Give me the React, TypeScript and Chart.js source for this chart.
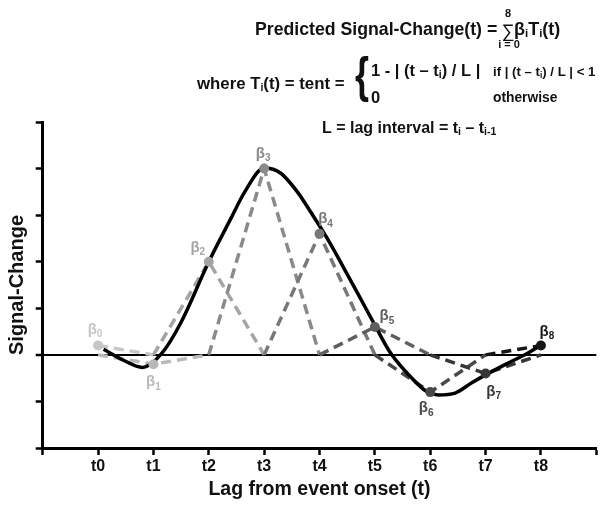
import { useEffect, useRef } from 'react';
import { Chart, registerables } from 'chart.js';

Chart.register(...registerables);

const FF = "'Liberation Sans', Arial, Helvetica, sans-serif";

// Lags (t0..t8) and estimated tent weights (beta_i)
const LAGS = [0, 1, 2, 3, 4, 5, 6, 7, 8];
const BETAS = [0.2, -0.2, 2.0, 4.0, 2.6, 0.6, -0.8, -0.4, 0.2];
const X_TICK_LABELS = ['t0', 't1', 't2', 't3', 't4', 't5', 't6', 't7', 't8'];

// Smooth predicted signal-change curve
const CURVE_X = [0.1, 0.45, 0.8, 1.15, 1.5, 2.0, 2.4, 2.65, 3.0, 3.3, 3.6, 3.85, 4.15, 4.4, 4.7, 5.0, 5.25, 5.55, 5.95, 6.15, 6.45, 6.75, 7.0, 7.4, 7.75, 8.0];
const CURVE_Y = [0.12, -0.11, -0.27, 0.03, 0.7, 2.0, 2.93, 3.5, 4.01, 3.9, 3.5, 3.05, 2.48, 1.95, 1.3, 0.64, 0.1, -0.35, -0.8, -0.86, -0.82, -0.6, -0.43, -0.18, 0.03, 0.21];

// Styles
const TENT_COLORS = ['#c6c6c6', '#b9b9b9', '#a4a4a4', '#8a8a8a', '#787878', '#5e5e5e', '#494949', '#363636', '#161616'];
const LABEL_OFFSETS: [number, number][] = [[-3, -16], [0, 18], [-11, -14], [-1, -15], [6, -15], [12, -11], [-4, 16], [8, 18], [6, -14]];

type Run = [string, number, number];
function drawRuns(ctx: CanvasRenderingContext2D, x: number, y: number, parts: Run[], weight = 'bold') {
  let cx = x;
  for (const [t, s, dy] of parts) {
    ctx.font = `${weight} ${s}px ${FF}`;
    ctx.fillText(t, cx, y + dy);
    cx += ctx.measureText(t).width;
  }
  return cx;
}

const betaLabelPlugin = {
  id: 'betaLabels',
  afterDatasetsDraw(chart: any) {
    const { ctx, scales } = chart;
    ctx.save();
    ctx.textBaseline = 'middle';
    ctx.textAlign = 'left';
    LAGS.forEach((lag, i) => {
      const px = scales.x.getPixelForValue(lag);
      const py = scales.y.getPixelForValue(BETAS[i]);
      const [dx, dy] = LABEL_OFFSETS[i];
      ctx.font = `bold 15px ${FF}`;
      const w1 = ctx.measureText('β').width;
      ctx.font = `bold 10px ${FF}`;
      const w2 = ctx.measureText(String(i)).width;
      const cx = px + dx - (w1 + w2) / 2;
      const cy = py + dy;
      ctx.fillStyle = TENT_COLORS[i];
      ctx.font = `bold 15px ${FF}`;
      ctx.fillText('β', cx, cy);
      ctx.font = `bold 10px ${FF}`;
      ctx.fillText(String(i), cx + w1, cy + 5);
    });
    ctx.restore();
  },
};

const equationPlugin = {
  id: 'equation',
  afterDraw(chart: any) {
    const ctx: CanvasRenderingContext2D = chart.ctx;
    ctx.save();
    ctx.fillStyle = '#111';
    ctx.textBaseline = 'alphabetic';
    ctx.textAlign = 'left';
    // Line 1
    drawRuns(ctx, 255, 35, [['Predicted Signal-Change(t) =', 17.7, 0]]);
    ctx.textAlign = 'center';
    ctx.font = `18px ${FF}`;
    ctx.fillText('∑', 508, 37);
    ctx.font = `bold 11px ${FF}`;
    ctx.fillText('8', 508, 17);
    ctx.fillText('i = 0', 509, 48);
    ctx.textAlign = 'left';
    drawRuns(ctx, 514, 35, [['β', 18, 0], ['i', 11.5, 2], ['T', 18, 0], ['i', 11.5, 2], ['(t)', 18, 0]]);
    // Line 2
    drawRuns(ctx, 197, 89, [['where T', 16.8, 0], ['i', 10.5, 2], ['(t) = tent =', 16.8, 0]]);
    ctx.save();
    ctx.translate(355, 92);
    ctx.scale(0.72, 1);
    ctx.font = `bold 50px ${FF}`;
    ctx.fillText('{', 0, 0);
    ctx.restore();
    drawRuns(ctx, 371, 76, [['1 - | (t – t', 16.5, 0], ['i', 10.5, 2], [') / L |', 16.5, 0]]);
    drawRuns(ctx, 371, 103, [['0', 16.5, 0]]);
    drawRuns(ctx, 493, 76, [['if | (t – t', 13.2, 0], ['i', 8.5, 1.5], [') / L | < 1', 13.2, 0]]);
    drawRuns(ctx, 493, 102, [['otherwise', 13.8, 0]]);
    // Line 3
    drawRuns(ctx, 322, 133, [['L = lag interval = t', 16, 0], ['i', 10.5, 2], [' – t', 16, 0], ['i-1', 10.5, 2]]);
    ctx.restore();
  },
};

export default function App() {
  const ref = useRef<HTMLCanvasElement | null>(null);

  useEffect(() => {
    if (!ref.current) return;
    const tentDatasets = LAGS.map((lag, i) => {
      const pts: { x: number; y: number }[] = [];
      if (i > 0) pts.push({ x: LAGS[i - 1], y: 0 });
      pts.push({ x: lag, y: BETAS[i] });
      if (i < LAGS.length - 1) pts.push({ x: LAGS[i + 1], y: 0 });
      return {
        type: 'line' as const,
        label: 'tent' + i,
        data: pts,
        borderColor: TENT_COLORS[i],
        borderWidth: 3.5,
        borderDash: [10, 6],
        pointRadius: 0,
        tension: 0,
        fill: false,
        order: 30 - i,
      };
    });

    const chart = new Chart(ref.current, {
      type: 'line',
      data: {
        datasets: [
          ...tentDatasets,
          {
            type: 'line',
            label: 'predicted',
            data: CURVE_X.map((x, k) => ({ x, y: CURVE_Y[k] })),
            borderColor: '#000',
            borderWidth: 3.5,
            pointRadius: 0,
            cubicInterpolationMode: 'monotone',
            fill: false,
            order: 1,
          },
          {
            type: 'scatter',
            label: 'betas',
            data: LAGS.map((x, i) => ({ x, y: BETAS[i] })),
            pointBackgroundColor: TENT_COLORS,
            pointBorderWidth: 0,
            pointRadius: 5,
            showLine: false,
            order: 0,
          },
        ] as any,
      },
      options: {
        responsive: false,
        animation: false,
        devicePixelRatio: 1,
        layout: { padding: { top: 122, right: 10.7, left: 0, bottom: 0 } },
        plugins: { legend: { display: false }, tooltip: { enabled: false } },
        scales: {
          x: {
            type: 'linear',
            min: -1,
            max: 9,
            afterFit: (s: any) => { s.height = 58; },
            border: { display: true, color: '#000', width: 3 },
            grid: { drawOnChartArea: false, drawTicks: true, tickLength: 7, tickColor: '#000', tickWidth: 2.5 },
            ticks: {
              stepSize: 1,
              autoSkip: false,
              maxRotation: 0,
              padding: 2,
              color: '#111',
              font: { size: 16, weight: 'bold', family: FF },
              callback: (v: any) => (v >= 0 && v <= 8 ? X_TICK_LABELS[v] : ''),
            },
            title: {
              display: true,
              text: 'Lag from event onset (t)',
              color: '#111',
              font: { size: 19.5, weight: 'bold', family: FF },
              padding: { top: 0, bottom: 5 },
            },
          },
          y: {
            type: 'linear',
            min: -2,
            max: 5,
            afterFit: (s: any) => { s.width = 42.7; },
            border: { display: true, color: '#000', width: 3 },
            grid: {
              drawOnChartArea: true,
              color: (c: any) => (c.tick && c.tick.value === 0 ? '#000' : 'rgba(0,0,0,0)'),
              lineWidth: (c: any) => (c.tick && c.tick.value === 0 ? 2 : 1),
              tickColor: '#000',
              tickWidth: 2.5,
              tickLength: 7,
            },
            ticks: { display: false, stepSize: 1 },
            title: {
              display: true,
              text: 'Signal-Change',
              color: '#111',
              font: { size: 20, weight: 'bold', family: FF },
              padding: { top: 5, bottom: 0 },
            },
          },
        },
      } as any,
      plugins: [betaLabelPlugin, equationPlugin],
    });
    return () => chart.destroy();
  }, []);

  return (
    <div style={{ position: 'absolute', left: 0, top: 0, width: 607, height: 506, background: '#fff' }}>
      <canvas ref={ref} width={607} height={506} style={{ display: 'block' }} />
    </div>
  );
}
